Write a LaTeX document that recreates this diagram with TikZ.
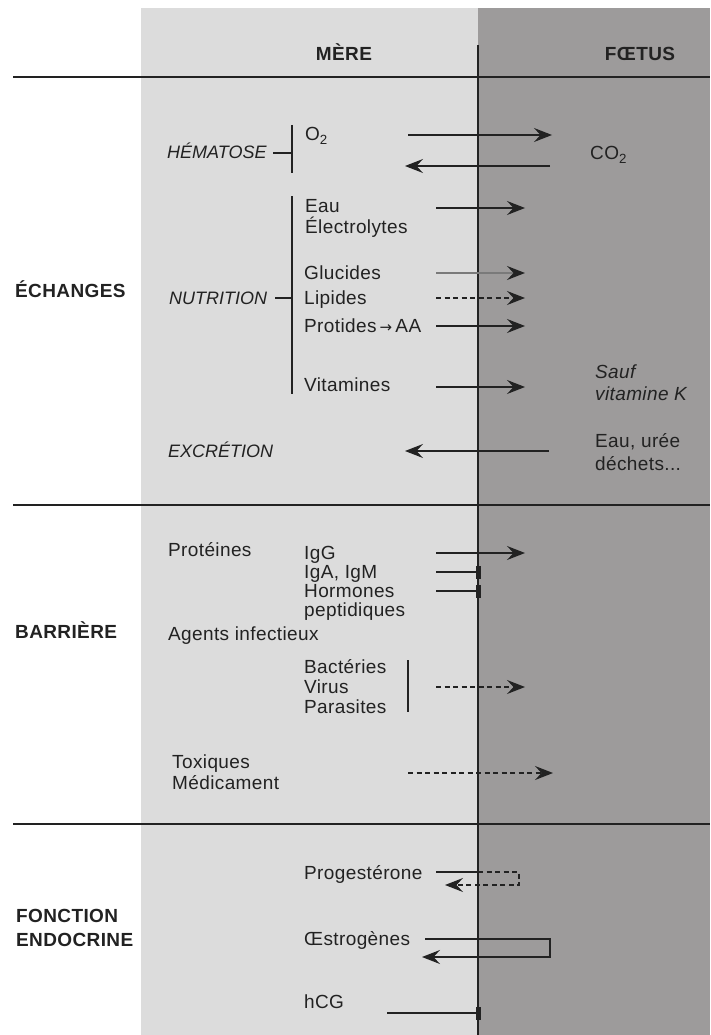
\documentclass[tikz,border=0pt]{standalone}
\usepackage{fontspec}
\setmainfont{Liberation Sans}[LetterSpace=2]
\newfontfamily\capsital{Liberation Sans}[UprightFont=*-Italic]
\newfontfamily\symfont{DejaVu Sans}
\usetikzlibrary{arrows.meta}
\definecolor{lightbg}{HTML}{DCDCDC}
\definecolor{darkbg}{HTML}{9D9B9B}
\definecolor{ink}{HTML}{222222}
\begin{document}
\begin{tikzpicture}[x=1pt,y=-1pt,
  font=\fontsize{19}{21.5}\selectfont,
  txt/.style={inner sep=0pt, anchor=base west, text=ink},
  head/.style={inner sep=0pt, anchor=base, text=ink, font=\fontsize{19}{21.5}\selectfont\bfseries},
  sect/.style={txt, font=\fontsize{19}{21.5}\selectfont\bfseries},
  ital/.style={txt, font=\fontsize{19}{21.5}\selectfont\itshape},
  capit/.style={txt, font=\capsital\fontsize{18}{20}\selectfont},
  rule/.style={draw=ink, line width=1.25pt},
  tipst/.style={-{Stealth[length=18pt,width=14pt,inset=6.5pt,color=ink]}},
  arr/.style={draw=ink, line width=1.25pt, tipst},
  dsh/.style={arr, dash pattern=on 5pt off 3.5pt},
  glu/.style={draw=ink!60, line width=1.7pt, tipst},
  stopline/.style={draw=ink, line width=1.25pt, -{Rectangle[length=5pt,width=13pt]}}]
\useasboundingbox (0,0) rectangle (710,1035);
% backgrounds
\fill[lightbg] (141,8) rectangle (478,1035);
\fill[darkbg] (478,8) rectangle (710,1035);
% frame lines
\coordinate (vtop) at (478,45);
\coordinate (vbot) at (478,1035);
\draw[rule] (vtop) -- (vbot);
\coordinate (h1a) at (13,77);  \coordinate (h1b) at (710,77);
\coordinate (h2a) at (13,505); \coordinate (h2b) at (710,505);
\coordinate (h3a) at (13,824); \coordinate (h3b) at (710,824);
\draw[rule] (h1a) -- (h1b);
\draw[rule] (h2a) -- (h2b);
\draw[rule] (h3a) -- (h3b);
% headers
\node[head] (mere) at (344,61) {MÈRE};
\node[head] (foetus) at (640,61) {FŒTUS};
% section labels
\node[sect] (ech) at (15,297) {ÉCHANGES};
\node[sect] (bar) at (15,638) {BARRIÈRE};
\node[sect] (fon) at (16,922) {FONCTION};
\node[sect] (endo) at (16,946) {ENDOCRINE};
% ECHANGES
\node[capit] (hem) at (167,159) {HÉMATOSE};
\coordinate (hemd) at (273,153); \coordinate (hemb) at (292,153);
\coordinate (hemt) at (292,125); \coordinate (hembot) at (292,173);
\draw[rule] (hemd) -- (hemb);
\draw[rule] (hemt) -- (hembot);
\node[txt] (o2) at (305,141) {O\textsubscript{2}};
\node[txt] (co2) at (590,160) {CO\textsubscript{2}};
\coordinate (o2a) at (408,135); \coordinate (o2b) at (552,135);
\draw[arr] (o2a) -- (o2b);
\coordinate (co2a) at (550,166); \coordinate (co2b) at (405,166);
\draw[arr] (co2a) -- (co2b);

\node[txt] (eau) at (305,212) {Eau};
\node[txt] (elec) at (305,233) {Électrolytes};
\node[txt] (gluc) at (304,279) {Glucides};
\node[txt] (lip) at (304,304) {Lipides};
\node[txt] (prot) at (304,332) {Protides\,{\symfont\fontsize{15}{15}\selectfont→}\,AA};
\node[txt] (vit) at (304,391) {Vitamines};
\node[capit] (nut) at (169,304) {NUTRITION};
\coordinate (nutd) at (275,298); \coordinate (nutb) at (292,298);
\coordinate (nutt) at (292,196); \coordinate (nutbot) at (292,394);
\draw[rule] (nutd) -- (nutb);
\draw[rule] (nutt) -- (nutbot);
\node[ital] (sauf) at (595,378) {Sauf};
\node[ital] (vitk) at (595,400) {vitamine K};

\coordinate (eaua) at (436,208); \coordinate (eaub) at (525,208);
\draw[arr] (eaua) -- (eaub);
\coordinate (glua) at (436,273); \coordinate (glub) at (525,273);
\draw[glu] (glua) -- (glub);
\coordinate (lipa) at (436,298); \coordinate (lipb) at (525,298);
\draw[dsh] (lipa) -- (lipb);
\coordinate (prota) at (436,326); \coordinate (protb) at (525,326);
\draw[arr] (prota) -- (protb);
\coordinate (vita) at (436,387); \coordinate (vitb) at (525,387);
\draw[arr] (vita) -- (vitb);

\node[capit] (exc) at (168,457) {EXCRÉTION};
\node[txt] (uree) at (595,447) {Eau, urée};
\node[txt] (dech) at (595,470) {déchets...};
\coordinate (exca) at (549,451); \coordinate (excb) at (405,451);
\draw[arr] (exca) -- (excb);
% BARRIERE
\node[txt] (prt) at (168,556) {Protéines};
\node[txt] (igg) at (304,559) {IgG};
\node[txt] (iga) at (304,578) {IgA, IgM};
\node[txt] (horm) at (304,597) {Hormones};
\node[txt] (pept) at (304,616) {peptidiques};
\node[txt] (agents) at (168,640) {Agents infectieux};
\node[txt] (bact) at (304,673) {Bactéries};
\node[txt] (virus) at (304,693) {Virus};
\node[txt] (paras) at (304,713) {Parasites};
\coordinate (bbt) at (408,660); \coordinate (bbb) at (408,712);
\draw[rule] (bbt) -- (bbb);
\coordinate (igga) at (436,553); \coordinate (iggb) at (525,553);
\draw[arr] (igga) -- (iggb);
\coordinate (igaa) at (436,572); \coordinate (igab) at (481,572);
\draw[stopline] (igaa) -- (igab);
\coordinate (horma) at (436,591); \coordinate (hormb) at (481,591);
\draw[stopline] (horma) -- (hormb);
\coordinate (bacta) at (436,687); \coordinate (bactb) at (525,687);
\draw[dsh] (bacta) -- (bactb);
\node[txt] (tox) at (172,768) {Toxiques};
\node[txt] (med) at (172,789) {Médicament};
\coordinate (toxa) at (408,773); \coordinate (toxb) at (553,773);
\draw[dsh] (toxa) -- (toxb);
% FONCTION ENDOCRINE
\node[txt] (prog) at (304,879) {Progestérone};
\node[txt] (oes) at (304,945) {Œstrogènes};
\node[txt] (hcg) at (304,1008) {hCG};
\coordinate (proga) at (436,872); \coordinate (progm) at (478,872);
\coordinate (progr) at (519,872); \coordinate (progd) at (519,885);
\coordinate (proge) at (445,885);
\draw[rule] (proga) -- (progm);
\draw[dsh] (progm) -- (progr) -- (progd) -- (proge);
\coordinate (oesa) at (425,939); \coordinate (oesr) at (550,939);
\coordinate (oesd) at (550,957); \coordinate (oese) at (422,957);
\draw[arr] (oesa) -- (oesr) -- (oesd) -- (oese);
\coordinate (hcga) at (387,1013); \coordinate (hcgb) at (481,1013);
\draw[stopline] (hcga) -- (hcgb);
\end{tikzpicture}
\end{document}
